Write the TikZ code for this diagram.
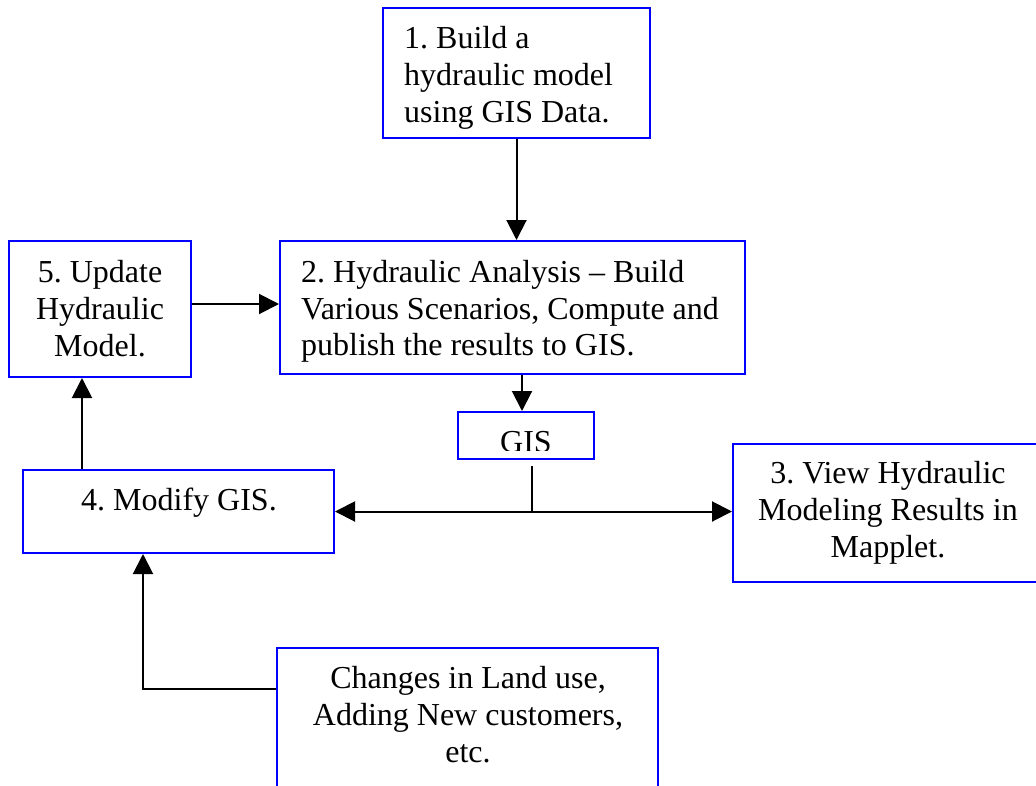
\documentclass[tikz,border=0pt]{standalone}
\usepackage{fontspec}
\setmainfont{Liberation Serif}
\usetikzlibrary{arrows.meta}
\definecolor{boxblue}{RGB}{0,0,255}
\frenchspacing
\begin{document}
\begin{tikzpicture}[x=1pt,y=-1pt,
  box/.style={draw=boxblue, line width=2pt, rectangle, inner sep=0pt},
  lbl/.style={inner sep=0pt, font=\fontsize{32}{36.8}\selectfont\frenchspacing},
  link/.style={draw=black, line width=2pt, -{Triangle[length=20pt,width=20pt]}},
  twoway/.style={draw=black, line width=2pt, {Triangle[length=20pt,width=20pt]}-{Triangle[length=20pt,width=20pt]}},
  plain/.style={draw=black, line width=2pt}]
\useasboundingbox (0,0) rectangle (1036,785);
\clip (0,0) rectangle (1036,785);

% process boxes
\node[box, minimum width=267pt, minimum height=130pt] (b1) at (516.5,73) {};
\node[box, minimum width=465pt, minimum height=133pt] (b2) at (512.5,307.5) {};
\node[box, minimum width=182pt, minimum height=136pt] (b5) at (100,309) {};
\node[box, minimum width=136pt, minimum height=47pt] (gis) at (526,435.5) {};
\node[box, minimum width=311pt, minimum height=83pt] (b4) at (178.5,511.5) {};
\node[box, minimum width=312pt, minimum height=138pt] (b3) at (889,513) {};
\node[box, minimum width=381pt, minimum height=152pt] (b6) at (467.5,724) {};

% box texts
\node[lbl, anchor=base west] (b1a) at (404,48) {1. Build a};
\node[lbl, anchor=base west] (b1b) at (404,85) {hydraulic model};
\node[lbl, anchor=base west] (b1c) at (404,122) {using GIS Data.};

\node[lbl, anchor=base west] (b2a) at (301,282) {2. Hydraulic Analysis – Build};
\node[lbl, anchor=base west] (b2b) at (301,319) {Various Scenarios, Compute and};
\node[lbl, anchor=base west] (b2c) at (301,355) {publish the results to GIS.};

\node[lbl, anchor=base] (b5a) at (100,282) {5. Update};
\node[lbl, anchor=base] (b5b) at (100,319) {Hydraulic};
\node[lbl, anchor=base] (b5c) at (100,356) {Model.};

\begin{scope}
  \clip (440,400) rectangle (610,450.5);
  \node[lbl, anchor=base] (gist) at (526,452) {GIS};
\end{scope}

\node[lbl, anchor=base] (b4a) at (179,510) {4. Modify GIS.};

\node[lbl, anchor=base] (b3a) at (888,483) {3. View Hydraulic};
\node[lbl, anchor=base] (b3b) at (888,520) {Modeling Results in};
\node[lbl, anchor=base] (b3c) at (888,557) {Mapplet.};

\node[lbl, anchor=base] (b6a) at (468,688) {Changes in Land use,};
\node[lbl, anchor=base] (b6b) at (468,725) {Adding New customers,};
\node[lbl, anchor=base] (b6c) at (468,762) {etc.};

% connectors
\draw[link] (b1.south) -- (b1.south |- b2.north);
\draw[link] ([yshift=5pt]b5.east) -- ([yshift=5pt]b5.east -| b2.west);
\draw[link] ([xshift=-4pt]gis.north |- b2.south) -- ([xshift=-4pt]gis.north);

\coordinate (gstub) at (532,466);
\coordinate (junc) at (532,511.5);
\draw[plain] (gstub) -- (junc);
\draw[twoway] (b4.east) -- (b4.east -| b3.west);

\draw[link] ([xshift=-96.5pt]b4.north) -- ([xshift=-96.5pt]b4.north |- b5.south);

\coordinate (bend) at (143,689);
\draw[link] (b6.west |- bend) -- (bend) -- (bend |- b4.south);
\end{tikzpicture}
\end{document}
